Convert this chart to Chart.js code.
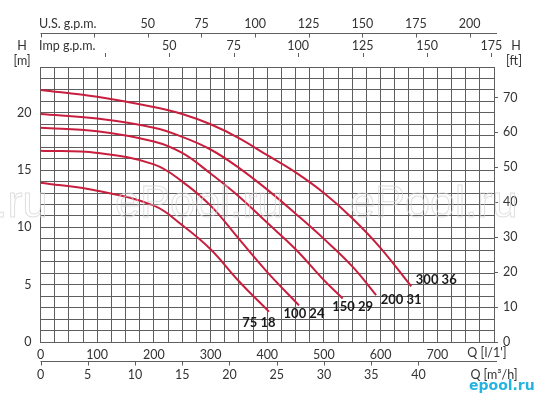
<!DOCTYPE html>
<html>
<head>
<meta charset="utf-8">
<script src="https://cdn.jsdelivr.net/npm/chart.js@4.4.0/dist/chart.umd.min.js"></script>
<style>
  body { margin: 0; background: #fff; }
  canvas { display: block; }
</style>
</head>
<body>
<canvas id="chart" width="537" height="398"></canvas>
<script>
// pump curves: flow Q in l/min, head H in m
const flow75 = [0, 100, 200, 250, 300, 350, 403];
const head75 = [13.9, 13.2, 11.9, 10.2, 8.1, 5.3, 2.65];
const flow100 = [0, 100, 200, 250, 300, 350, 400, 456];
const head100 = [16.7, 16.5, 15.5, 14.0, 11.9, 9.0, 6.1, 3.2];
const flow150 = [0, 100, 200, 250, 300, 350, 400, 450, 500, 533];
const head150 = [18.7, 18.4, 17.5, 16.5, 14.7, 12.7, 10.4, 8.1, 5.4, 3.8];
const flow200 = [0, 100, 200, 250, 300, 350, 400, 450, 500, 550, 592];
const head200 = [19.9, 19.5, 18.7, 17.9, 16.8, 15.2, 13.3, 11.2, 9.0, 6.6, 4.1];
const flow300 = [0, 100, 200, 250, 300, 350, 400, 450, 500, 550, 600, 654];
const head300 = [22.0, 21.4, 20.5, 19.9, 19.0, 17.8, 16.3, 14.8, 13.0, 10.8, 8.2, 4.85];
const curveNames = ['75 18', '100 24', '150 29', '200 31', '300 36'];

// secondary axis ticks
const usGpmTicks = [0, 25, 50, 75, 100, 125, 150, 175, 200];
const impGpmTicks = [25, 50, 75, 100, 125, 150, 175];
const m3hTicks = [0, 5, 10, 15, 20, 25, 30, 35, 40];

const LPM_PER_USGPM = 3.785;
const LPM_PER_IMPGPM = 4.546;
const LPM_PER_M3H = 1000 / 60;
const FT_PER_M = 3.28084;

const RED = '#c81f3e';
const TXT = '#333';
const GRID = '#5e5e5e';
const FONT = 'Lato';

function toPoints(q, h) {
  return q.map((v, i) => ({ x: v, y: h[i] }));
}

// label offset from curve end, px
const labelShift = [[-10, 11], [5, 8], [10, 8], [25, 5], [25, -7]];

const curves = [[flow75, head75], [flow100, head100], [flow150, head150], [flow200, head200], [flow300, head300]];

const datasets = curves.map((c, i) => ({
  label: curveNames[i],
  data: toPoints(c[0], c[1]),
  borderColor: RED,
  borderWidth: 2,
  pointRadius: 0,
  fill: false,
  tension: 0.4,
  yAxisID: 'y'
}));

const extras = {
  id: 'extras',
  afterDraw(chart) {
    const ctx = chart.ctx;
    const xs = chart.scales.x;
    const ys = chart.scales.y;
    const area = chart.chartArea;
    ctx.save();

    // watermark
    ctx.font = '45px "Liberation Sans"';
    ctx.textBaseline = 'alphabetic';
    ctx.textAlign = 'left';
    ctx.strokeStyle = 'rgba(210,210,210,0.7)';
    ctx.lineWidth = 1;
    [-120, 115, 350].forEach(wx => ctx.strokeText('ePool.ru', wx, 217));

    ctx.fillStyle = TXT;
    ctx.strokeStyle = GRID;
    ctx.lineWidth = 1;
    ctx.font = '12.5px ' + FONT;
    ctx.textBaseline = 'middle';

    // U.S. g.p.m. axis
    const usY = 33.5;
    ctx.beginPath();
    ctx.moveTo(area.left, usY);
    ctx.lineTo(area.right + 3, usY);
    usGpmTicks.forEach(g => {
      const px = Math.round(xs.getPixelForValue(g * LPM_PER_USGPM)) + 0.5;
      ctx.moveTo(px, usY);
      ctx.lineTo(px, usY + 4);
    });
    ctx.stroke();
    ctx.textAlign = 'center';
    usGpmTicks.forEach(g => {
      if (g < 50) return;
      ctx.fillText(String(g), xs.getPixelForValue(g * LPM_PER_USGPM), 24);
    });
    ctx.textAlign = 'left';
    ctx.fillText('U.S. g.p.m.', 39, 24);

    // Imp g.p.m. axis
    ctx.beginPath();
    impGpmTicks.forEach(g => {
      const px = Math.round(xs.getPixelForValue(g * LPM_PER_IMPGPM)) + 0.5;
      ctx.moveTo(px, 53);
      ctx.lineTo(px, 57);
    });
    ctx.stroke();
    ctx.textAlign = 'center';
    impGpmTicks.forEach(g => {
      if (g < 50) return;
      ctx.fillText(String(g), xs.getPixelForValue(g * LPM_PER_IMPGPM), 46);
    });
    ctx.textAlign = 'left';
    ctx.fillText('Imp g.p.m.', 39, 46);

    // m3/h axis
    const mY = 361.5;
    ctx.beginPath();
    ctx.moveTo(area.left, mY);
    ctx.lineTo(area.right + 3, mY);
    m3hTicks.forEach(m => {
      const px = Math.round(xs.getPixelForValue(m * LPM_PER_M3H)) + 0.5;
      ctx.moveTo(px, mY);
      ctx.lineTo(px, mY + 4);
    });
    ctx.stroke();
    ctx.textAlign = 'center';
    m3hTicks.forEach(m => {
      ctx.fillText(String(m), xs.getPixelForValue(m * LPM_PER_M3H), 375);
    });
    ctx.fillText('Q [m\u00b3/h]', 494, 375);
    ctx.fillText("Q [l/1']", 487, 353);

    // axis titles
    ctx.fillText('H', 22, 46);
    ctx.fillText('[m]', 22, 61);
    ctx.fillText('H', 516, 46);
    ctx.fillText('[ft]', 514, 61);

    // curve labels
    ctx.font = 'bold 13px ' + FONT;
    ctx.fillStyle = '#1a1a1a';
    curves.forEach((c, i) => {
      const n = c[0].length - 1;
      const px = xs.getPixelForValue(c[0][n]);
      const py = ys.getPixelForValue(c[1][n]);
      ctx.fillText(curveNames[i], px + labelShift[i][0], py + labelShift[i][1]);
    });

    // logo
    ctx.font = 'bold 14px "DejaVu Sans"';
    ctx.fillStyle = '#25b3e2';
    ctx.textAlign = 'left';
    ctx.fillText('epool.ru', 469, 386);

    ctx.restore();
  }
};

new Chart(document.getElementById('chart'), {
  type: 'line',
  data: { datasets: datasets },
  options: {
    responsive: false,
    animation: false,
    layout: { padding: { top: 67, left: 0, right: 0, bottom: 0 } },
    plugins: { legend: { display: false }, tooltip: { enabled: false } },
    scales: {
      x: {
        type: 'linear',
        min: 0,
        max: 800,
        afterFit: s => { s.height = 56; },
        grid: { color: GRID, drawTicks: false },
        border: { color: GRID },
        ticks: {
          stepSize: 25,
          autoSkip: false,
          maxRotation: 0,
          padding: 5,
          color: TXT,
          font: { family: FONT, size: 12.5 },
          callback: v => (v % 100 === 0 && v < 800 ? String(v) : '')
        }
      },
      y: {
        min: 0,
        max: 24,
        afterFit: s => { s.width = 40.5; },
        grid: { color: GRID, drawTicks: false },
        border: { color: GRID },
        ticks: {
          stepSize: 1,
          autoSkip: false,
          padding: 9,
          color: TXT,
          font: { family: FONT, size: 12.5 },
          callback: v => (v % 5 === 0 ? String(v) : '')
        }
      },
      yft: {
        position: 'right',
        min: 0,
        max: 24 * FT_PER_M,
        afterFit: s => { s.width = 43; },
        afterBuildTicks: s => { s.ticks = s.ticks.filter(t => Math.abs(t.value % 10) < 1e-6); },
        grid: { drawOnChartArea: false, drawTicks: true, tickLength: 4, color: GRID },
        border: { color: GRID },
        ticks: {
          stepSize: 10,
          padding: 5,
          color: TXT,
          font: { family: FONT, size: 12.5 }
        }
      }
    }
  },
  plugins: [extras]
});
</script>
</body>
</html>
